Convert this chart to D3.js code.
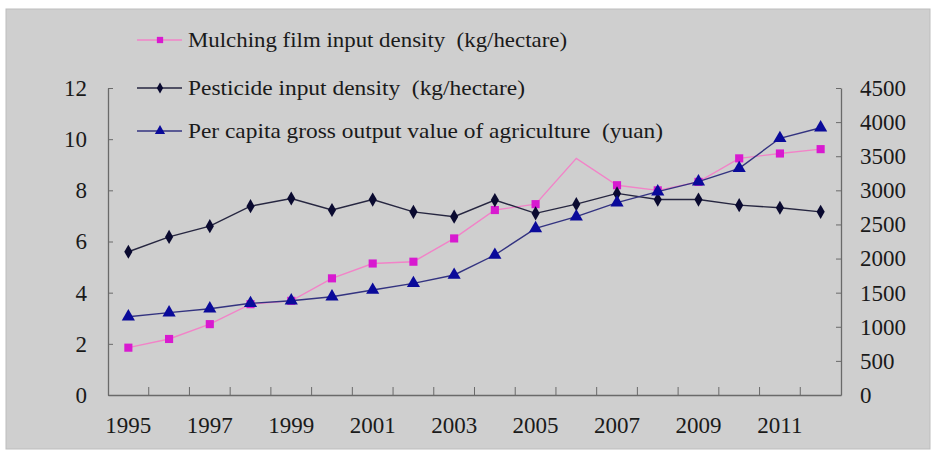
<!DOCTYPE html>
<html>
<head>
<meta charset="utf-8">
<script src="https://cdn.jsdelivr.net/npm/d3@7"></script>
<style>
  body { margin: 0; background: #fff; }
</style>
</head>
<body>
<div id="chart"></div>
<script>
const years = ["1995","1996","1997","1998","1999","2000","2001","2002","2003","2004","2005","2006","2007","2008","2009","2010","2011","2012"];
const yearLabels = ["1995","1997","1999","2001","2003","2005","2007","2009","2011"];
const filmDensity = [1.85, 2.19, 2.77, 3.55, 3.68, 4.56, 5.14, 5.21, 6.12, 7.23, 7.46, 9.25, 8.2, 8.0, 8.33, 9.25, 9.44, 9.61];
const filmNoMarker = ["2006"];
const pesticideDensity = [5.6, 6.18, 6.6, 7.38, 7.68, 7.23, 7.64, 7.16, 6.97, 7.62, 7.1, 7.46, 7.88, 7.64, 7.64, 7.42, 7.32, 7.16];
const outputValue = [1148, 1207, 1265, 1344, 1382, 1441, 1539, 1637, 1759, 2052, 2443, 2614, 2819, 2980, 3127, 3323, 3763, 3918];
const leftTicks = [0, 2, 4, 6, 8, 10, 12];
const rightTicks = [0, 500, 1000, 1500, 2000, 2500, 3000, 3500, 4000, 4500];
const legendNames = [
  "Mulching film input density  (kg/hectare)",
  "Pesticide input density  (kg/hectare)",
  "Per capita gross output value of agriculture  (yuan)"
];
const legendWidths = [379, 337, 475];

const width = 937, height = 450;
const plot = { left: 108, right: 841, top: 88, bottom: 395 };
const serif = '"Liberation Serif"';

const svg = d3.select("#chart").append("svg")
  .attr("width", width)
  .attr("height", height)
  .attr("font-family", serif);

// gray background panel
svg.append("rect")
  .attr("x", 6).attr("y", 9)
  .attr("width", 924).attr("height", 440)
  .attr("fill", "#cfcfcf")
  .attr("stroke", "#bdbdbd");

const x = d3.scaleBand().domain(years).range([plot.left, plot.right]).padding(0);
const yLeft = d3.scaleLinear().domain([0, 12]).range([plot.bottom, plot.top]);
const yRight = d3.scaleLinear().domain([0, 4500]).range([plot.bottom, plot.top]);
const cx = d => x(d) + x.bandwidth() / 2;

const axisColor = "#6a6a6a";

// left axis
const gl = svg.append("g")
  .attr("transform", `translate(${plot.left},0)`)
  .call(d3.axisLeft(yLeft).tickValues(leftTicks).tickSizeInner(-5).tickSizeOuter(0).tickPadding(21));
// right axis
const gr = svg.append("g")
  .attr("transform", `translate(${plot.right},0)`)
  .call(d3.axisRight(yRight).tickValues(rightTicks).tickFormat(d3.format("d")).tickSizeInner(-5).tickSizeOuter(0).tickPadding(19));
// bottom axis (labels only, ticks drawn on category borders)
const gb = svg.append("g")
  .attr("transform", `translate(0,${plot.bottom})`)
  .call(d3.axisBottom(x).tickValues(yearLabels).tickSize(0).tickPadding(22));

[gl, gr, gb].forEach(g => {
  g.attr("font-family", serif).attr("font-size", 23);
  g.select(".domain").attr("stroke", axisColor).attr("stroke-width", 1.3);
  g.selectAll(".tick line").attr("stroke", axisColor);
  g.selectAll("text").attr("font-family", serif).attr("font-size", 23).attr("fill", "#1a1a1a");
});

gb.selectAll(".boundary")
  .data(years.slice(1))
  .join("line")
  .attr("x1", d => x(d)).attr("x2", d => x(d))
  .attr("y1", 0).attr("y2", -8)
  .attr("stroke", axisColor);

const series = [
  { name: legendNames[0], values: filmDensity, y: yLeft, line: "#f283c8", fill: "#d81ad0", shape: d3.symbolSquare, size: 66 },
  { name: legendNames[1], values: pesticideDensity, y: yLeft, line: "#262640", fill: "#0a0a30", shape: d3.symbolDiamond, size: 58 },
  { name: legendNames[2], values: outputValue, y: yRight, line: "#333380", fill: "#0a0a9a", shape: d3.symbolTriangle, size: 75 }
];

series.forEach(s => {
  const pts = years.map((yr, i) => ({ yr, v: s.values[i] }));
  svg.append("path")
    .datum(pts)
    .attr("fill", "none")
    .attr("stroke", s.line)
    .attr("stroke-width", 1.4)
    .attr("d", d3.line().x(d => cx(d.yr)).y(d => s.y(d.v)));
  svg.append("g").selectAll("path")
    .data(pts.filter(d => !(s.values === filmDensity && filmNoMarker.includes(d.yr))))
    .join("path")
    .attr("transform", d => `translate(${cx(d.yr)},${s.y(d.v)})`)
    .attr("d", d3.symbol().type(s.shape).size(s.size))
    .attr("fill", s.fill);
});

// legend
const legend = svg.append("g").attr("transform", "translate(137,0)");
const legendY = [40, 88, 131];
series.forEach((s, i) => {
  const g = legend.append("g").attr("transform", `translate(0,${legendY[i]})`);
  g.append("line").attr("x1", 0).attr("x2", 45).attr("stroke", s.line).attr("stroke-width", 1.4);
  g.append("path").attr("transform", "translate(23,0)")
    .attr("d", d3.symbol().type(s.shape).size(s.size * 0.6)).attr("fill", s.fill);
  g.append("text").attr("x", 51).attr("dy", "0.35em")
    .attr("font-family", serif)
    .attr("font-size", 21)
    .attr("fill", "#1a1a1a")
    .attr("xml:space", "preserve")
    .attr("textLength", legendWidths[i])
    .attr("lengthAdjust", "spacingAndGlyphs")
    .text(s.name);
});
</script>
</body>
</html>
